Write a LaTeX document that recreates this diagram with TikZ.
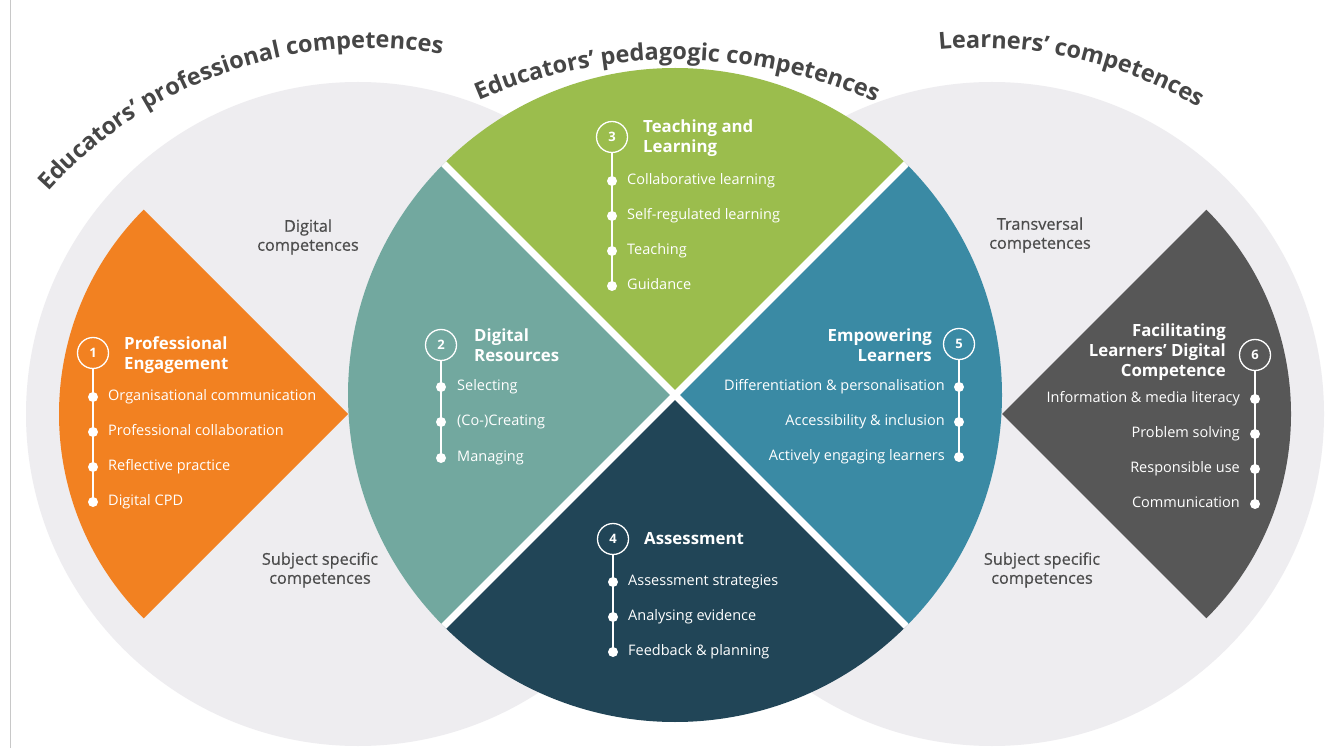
\documentclass[tikz,border=0pt]{standalone}
\usepackage{fontspec}
\setmainfont{Open Sans}
\newfontfamily\sidefont[FakeBold=0.6]{Open Sans}
\usetikzlibrary{decorations.text}
\definecolor{cOrange}{HTML}{F28121}
\definecolor{cTeal}{HTML}{72A89F}
\definecolor{cGreen}{HTML}{9BBD4D}
\definecolor{cBlue}{HTML}{3A8AA4}
\definecolor{cNavy}{HTML}{214557}
\definecolor{cDark}{HTML}{575757}
\definecolor{cBg}{HTML}{EEEDF0}
\definecolor{cTitle}{HTML}{464646}
\definecolor{cLabel}{HTML}{4C4C4C}
\definecolor{cEdge}{HTML}{C8C8C8}
\begin{document}
\begin{tikzpicture}[x=1pt,y=1pt,
  numcirc/.style={circle, draw=white, line width=1.3pt, minimum size=31pt, inner sep=0pt, font=\bfseries\fontsize{13}{13}\selectfont, text=white},
  dotn/.style={circle, fill=white, inner sep=0pt, minimum size=10pt},
  item/.style={inner sep=0pt, text=white, font=\fontsize{14.5}{17}\selectfont, text height=10.5pt, text depth=3.5pt},
  ttl/.style={inner sep=0pt, text=white, font=\bfseries\fontsize{16.8}{20}\selectfont},
  side/.style={inner sep=0pt, text=cLabel, align=center, font=\sidefont\fontsize{16.3}{19}\selectfont},
  stem/.style={white, line width=1.3pt},
  gap/.style={white, line width=7pt},
  arctitle/.style={decorate, decoration={text along path, text align=center, text color=cTitle, text={|\bfseries\fontsize{23.5}{28}\selectfont|#1}}}]
\useasboundingbox (0,0) rectangle (1325,748);
\fill[white] (0,0) rectangle (1325,748);
\draw[cEdge, line width=1.5pt] (10.5,0) -- (10.5,748);

% grey circles
\fill[cBg] (358,334) circle (332);
\fill[cBg] (992,334) circle (332);

% outer wedges
\fill[cOrange] (348,334) -- ++(135:289) arc (135:225:289) -- cycle;
\fill[cDark] (1002,334) -- ++(-45:289) arc (-45:45:289) -- cycle;

% central circle
\fill[cTeal]  (675,353) -- ++(135:327) arc (135:225:327) -- cycle;
\fill[cGreen] (675,353) -- ++(45:327) arc (45:135:327) -- cycle;
\fill[cBlue]  (675,353) -- ++(-45:327) arc (-45:45:327) -- cycle;
\fill[cNavy]  (675,353) -- ++(225:327) arc (225:315:327) -- cycle;
\begin{scope}
\clip (675,353) circle (327);
\draw[gap] (675,353) ++(45:340) -- ++(225:680);
\draw[gap] (675,353) ++(135:340) -- ++(315:680);
\end{scope}

% arc titles
\path[arctitle={Educators' professional competences}] (370,268) ++(138:432) arc (138:80.5:432);
\path[arctitle={Educators' pedagogic competences}] (675,188) ++(113:500) arc (113:66.5:500);
\path[arctitle={Learners' competences}] (980,268) ++(96:432) arc (96:59:432);

% side labels
\node[side] (sl1) at (308,511) {Digital\\competences};
\node[side] (sl2) at (320,178) {Subject specific\\competences};
\node[side] (sl3) at (1040,513) {Transversal\\competences};
\node[side] (sl4) at (1042,178) {Subject specific\\competences};

% section 1
\node[numcirc] (n1) at (93,395) {1};
\node[ttl, anchor=west, align=left] (t1) at (124,393) {Professional\\Engagement};
\draw[stem] (n1.south) -- (93,246);
\node[dotn] (d11) at (93,351) {};
\node[dotn] (d12) at (93,316) {};
\node[dotn] (d13) at (93,281) {};
\node[dotn] (d14) at (93,246) {};
\node[item, anchor=west] (i11) at (108,351) {Organisational communication};
\node[item, anchor=west] (i12) at (108,316) {Professional collaboration};
\node[item, anchor=west] (i13) at (108,281) {Reflective practice};
\node[item, anchor=west] (i14) at (108,246) {Digital CPD};

% section 2
\node[numcirc] (n2) at (441,403) {2};
\node[ttl, anchor=west, align=left] (t2) at (474,402.5) {Digital\\Resources};
\draw[stem] (n2.south) -- (441,290);
\node[dotn] (d21) at (441,361) {};
\node[dotn] (d22) at (441,326) {};
\node[dotn] (d23) at (441,290) {};
\node[item, anchor=west] (i21) at (457,361) {Selecting};
\node[item, anchor=west] (i22) at (457,326) {(Co-)Creating};
\node[item, anchor=west] (i23) at (457,290) {Managing};

% section 3
\node[numcirc] (n3) at (612,611) {3};
\node[ttl, anchor=west, align=left] (t3) at (643,610) {Teaching and\\Learning};
\draw[stem] (n3.south) -- (612,462);
\node[dotn] (d31) at (612,567) {};
\node[dotn] (d32) at (612,532) {};
\node[dotn] (d33) at (612,497) {};
\node[dotn] (d34) at (612,462) {};
\node[item, anchor=west] (i31) at (627,567) {Collaborative learning};
\node[item, anchor=west] (i32) at (627,532) {Self-regulated learning};
\node[item, anchor=west] (i33) at (627,497) {Teaching};
\node[item, anchor=west] (i34) at (627,462) {Guidance};

% section 4
\node[numcirc] (n4) at (613,209) {4};
\node[ttl, anchor=west] (t4) at (644,209) {Assessment};
\draw[stem] (n4.south) -- (613,96);
\node[dotn] (d41) at (613,166) {};
\node[dotn] (d42) at (613,131) {};
\node[dotn] (d43) at (613,96) {};
\node[item, anchor=west] (i41) at (628,166) {Assessment strategies};
\node[item, anchor=west] (i42) at (628,131) {Analysing evidence};
\node[item, anchor=west] (i43) at (628,96) {Feedback \& planning};

% section 5
\node[numcirc] (n5) at (959,404) {5};
\node[ttl, anchor=east, align=right] (t5) at (932,402.5) {Empowering\\Learners};
\draw[stem] (n5.south) -- (959,291);
\node[dotn] (d51) at (959,361) {};
\node[dotn] (d52) at (959,326) {};
\node[dotn] (d53) at (959,291) {};
\node[item, anchor=east] (i51) at (945,361) {Differentiation \& personalisation};
\node[item, anchor=east] (i52) at (945,326) {Accessibility \& inclusion};
\node[item, anchor=east] (i53) at (945,291) {Actively engaging learners};

% section 6
\node[numcirc] (n6) at (1255,393) {6};
\node[ttl, anchor=east, align=right] (t6) at (1226,396) {Facilitating\\Learners' Digital\\Competence};
\draw[stem] (n6.south) -- (1255,244);
\node[dotn] (d61) at (1255,349) {};
\node[dotn] (d62) at (1255,314) {};
\node[dotn] (d63) at (1255,279) {};
\node[dotn] (d64) at (1255,244) {};
\node[item, anchor=east] (i61) at (1240,349) {Information \& media literacy};
\node[item, anchor=east] (i62) at (1240,314) {Problem solving};
\node[item, anchor=east] (i63) at (1240,279) {Responsible use};
\node[item, anchor=east] (i64) at (1240,244) {Communication};
\end{tikzpicture}
\end{document}
